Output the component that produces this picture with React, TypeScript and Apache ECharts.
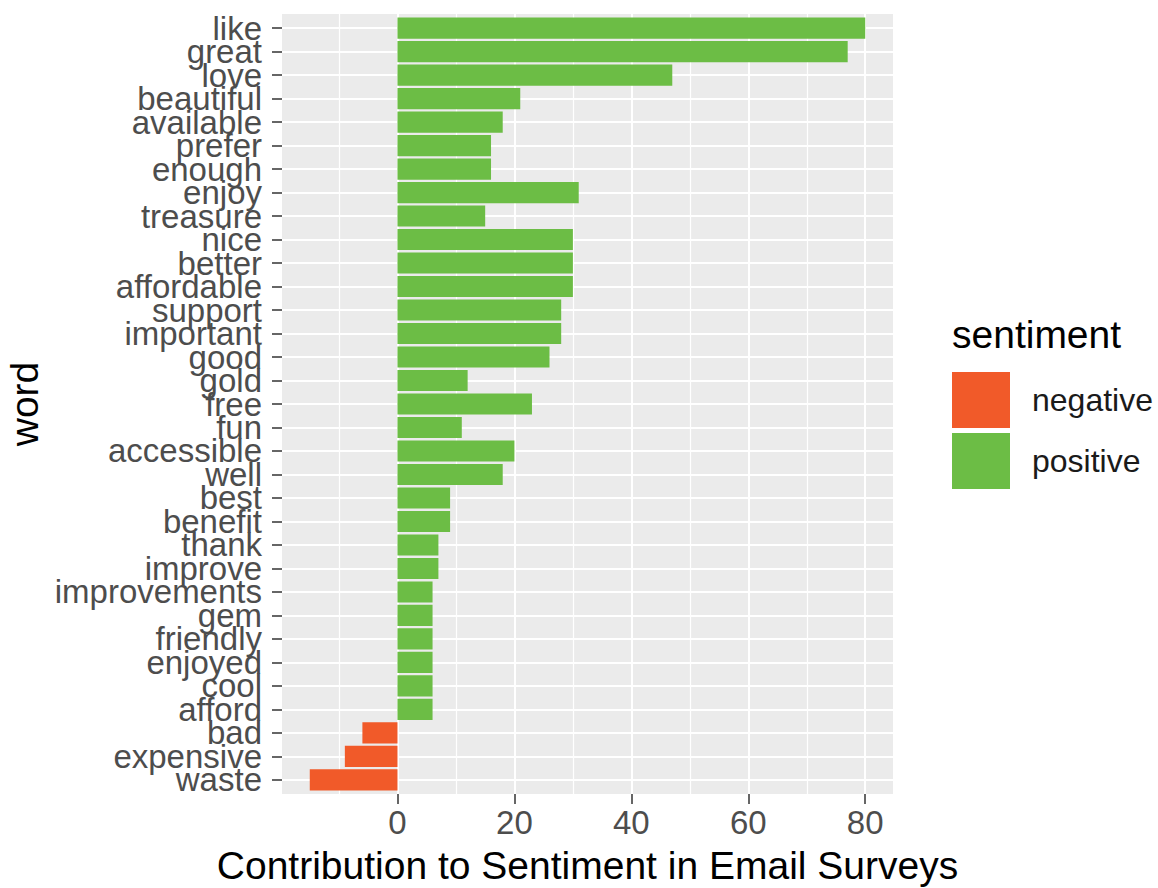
import React, { useEffect, useRef } from "react";
import * as echarts from "echarts";

// ---- data ----
const words = [
  "like", "great", "love", "beautiful", "available", "prefer", "enough", "enjoy",
  "treasure", "nice", "better", "affordable", "support", "important", "good", "gold",
  "free", "fun", "accessible", "well", "best", "benefit", "thank", "improve",
  "improvements", "gem", "friendly", "enjoyed", "cool", "afford", "bad", "expensive", "waste",
];
const contributions = [
  80, 77, 47, 21, 18, 16, 16, 31,
  15, 30, 30, 30, 28, 28, 26, 12,
  23, 11, 20, 18, 9, 9, 7, 7,
  6, 6, 6, 6, 6, 6, -6, -9, -15,
];
const sentiments = contributions.map((v) => (v < 0 ? "negative" : "positive"));
const sentimentLevels = ["negative", "positive"];
const sentimentColors = { negative: "#F15A29", positive: "#6CBD45" };
const xMajorTicks = [0, 20, 40, 60, 80];
const xMinorGrid = [-10, 10, 30, 50, 70];
const xMin = -19.75;
const xMax = 84.75;

// ---- layout ----
const FONT = "'Liberation Sans', Arial, sans-serif";
const PANEL = { left: 282, top: 14, width: 611, height: 780 };
const CAT_PAD = 0.6;

export default function App() {
  const ref = useRef<HTMLDivElement>(null);

  useEffect(() => {
    if (!ref.current) return;
    const chart = echarts.init(ref.current, null, { renderer: "svg" });
    const n = words.length;
    const step = PANEL.height / (n - 1 + 2 * CAT_PAD);
    const indices = words.map((_, i) => i);
    // word labels are split over two co-located axes so ECharts does not drop crowded labels
    const evenIdx = indices.filter((i) => i % 2 === 0);
    const oddIdx = indices.filter((i) => i % 2 === 1);

    const series = sentimentLevels.map((s) => ({
      name: s,
      type: "bar",
      stack: "total",
      xAxisIndex: 1,
      yAxisIndex: 1,
      barWidth: "90%",
      itemStyle: { color: (sentimentColors as any)[s] },
      data: contributions.map((v, i) => (sentiments[i] === s ? v : "-")),
    }));

    const wordAxis = (vals: number[], withName: boolean) => ({
      gridIndex: 0,
      type: "value",
      min: -CAT_PAD,
      max: n - 1 + CAT_PAD,
      inverse: true,
      position: "left",
      offset: 0,
      axisLine: { show: false, onZero: false },
      axisTick: { show: true, customValues: vals, length: 10, lineStyle: { color: "#333", width: 1.5 } },
      axisLabel: {
        customValues: vals,
        formatter: (v: number) => words[Math.round(v)] ?? "",
        fontSize: 33,
        color: "#4D4D4D",
        margin: 20,
        showMinLabel: true,
        showMaxLabel: true,
        hideOverlap: false,
        fontFamily: FONT,
      },
      splitLine: { show: true, lineStyle: { color: "#FFFFFF", width: 2 } },
      ...(withName
        ? {
            name: "word",
            nameLocation: "middle",
            nameRotate: 90,
            nameGap: 235,
            nameTextStyle: { fontSize: 39, color: "#000", fontFamily: FONT },
          }
        : {}),
    });

    chart.setOption({
      animation: false,
      textStyle: { fontFamily: FONT },
      title: {
        text: "sentiment",
        left: 952,
        top: 315,
        padding: 0,
        textStyle: { fontFamily: FONT, fontSize: 39, fontWeight: "normal", color: "#000" },
      },
      legend: {
        data: sentimentLevels,
        orient: "vertical",
        left: 952,
        top: 372,
        padding: 0,
        icon: "rect",
        itemWidth: 58,
        itemHeight: 56,
        itemGap: 5,
        textStyle: { fontFamily: FONT, fontSize: 32, color: "#1A1A1A", padding: [0, 0, 0, 17] },
      },
      grid: [
        {
          left: PANEL.left,
          top: PANEL.top,
          width: PANEL.width,
          height: PANEL.height,
          show: true,
          backgroundColor: "#EBEBEB",
          borderWidth: 0,
          containLabel: false,
          outerBoundsMode: "none",
        },
        {
          left: PANEL.left,
          top: PANEL.top + (CAT_PAD - 0.5) * step,
          width: PANEL.width,
          height: n * step,
          containLabel: false,
          outerBoundsMode: "none",
        },
      ],
      xAxis: [
        {
          gridIndex: 0,
          type: "value",
          min: xMin,
          max: xMax,
          position: "bottom",
          axisLine: { show: false, onZero: false },
          axisTick: { show: true, customValues: xMajorTicks, length: 10, lineStyle: { color: "#333", width: 1.5 } },
          axisLabel: { customValues: xMajorTicks, fontSize: 33, color: "#4D4D4D", margin: 12, fontFamily: FONT },
          splitLine: { show: true, lineStyle: { color: "#FFFFFF", width: 2 } },
          name: "Contribution to Sentiment in Email Surveys",
          nameLocation: "middle",
          nameGap: 52,
          nameTextStyle: { fontSize: 39, color: "#000", fontFamily: FONT },
        },
        { gridIndex: 1, type: "value", min: xMin, max: xMax, show: false, axisLine: { onZero: false } },
        {
          gridIndex: 0,
          type: "value",
          min: xMin,
          max: xMax,
          position: "top",
          axisLine: { show: false, onZero: false },
          axisTick: { show: false, customValues: xMinorGrid },
          axisLabel: { show: false, customValues: xMinorGrid },
          splitLine: { show: true, lineStyle: { color: "#FFFFFF", width: 1.2 } },
        },
      ],
      yAxis: [
        wordAxis(evenIdx, true),
        { gridIndex: 1, type: "category", data: words, inverse: true, show: false, axisLine: { onZero: false } },
        wordAxis(oddIdx, false),
      ],
      series,
    });

    return () => chart.dispose();
  }, []);

  return (
    <div
      ref={ref}
      style={{ position: "absolute", left: 0, top: 0, width: 1158, height: 888, background: "#fff" }}
    />
  );
}
